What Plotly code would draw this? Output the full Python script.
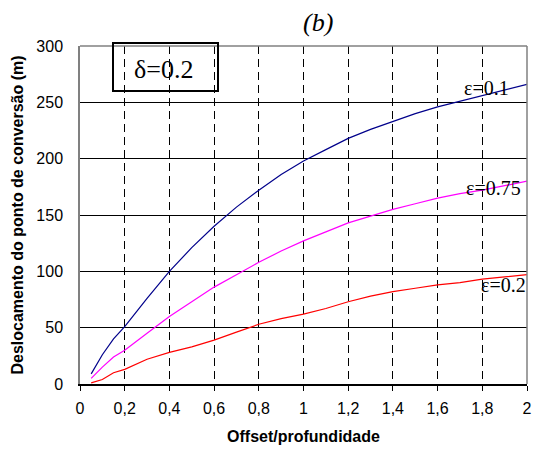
import plotly.graph_objects as go

x_vals = [0.05, 0.1, 0.15, 0.2, 0.3, 0.4, 0.5, 0.6, 0.7, 0.8, 0.9, 1.0,
          1.1, 1.2, 1.3, 1.4, 1.5, 1.6, 1.7, 1.8, 1.9, 2.0]
eps_01 = [9, 26, 40, 51, 76, 100, 121, 140, 157, 172, 186, 198,
          208, 218, 226, 233, 240, 246, 251, 256, 261, 266]
eps_075 = [5, 15, 24, 30, 45, 60, 73, 86, 97, 108, 118, 127,
           135, 143, 149, 155, 160, 165, 169, 172, 176, 180]
eps_02 = [1, 4, 10, 13, 22, 28, 33, 39, 46, 53, 58, 62,
          67, 73, 78, 82, 85, 88, 90, 93, 95, 97]

x_ticks = [0, 0.2, 0.4, 0.6, 0.8, 1.0, 1.2, 1.4, 1.6, 1.8, 2.0]
x_tick_labels = ["0", "0,2", "0,4", "0,6", "0,8", "1", "1,2", "1,4", "1,6", "1,8", "2"]
y_ticks = [0, 50, 100, 150, 200, 250, 300]

series = [
    ("ε=0.1", eps_01, "#00008B"),
    ("ε=0.75", eps_075, "#FF00FF"),
    ("ε=0.2", eps_02, "#FF0000"),
]

fig = go.Figure()
for name, ys, col in series:
    fig.add_trace(go.Scatter(x=x_vals, y=ys, mode="lines", name=name,
                             line=dict(color=col, width=1.2), showlegend=False))

serif = "Liberation Serif"
sans = "Liberation Sans"

fig.update_layout(
    width=533, height=453,
    margin=dict(l=80, r=6, t=46, b=69),
    paper_bgcolor="white", plot_bgcolor="white",
    font=dict(family=sans, color="black", size=16),
    xaxis=dict(range=[0, 2], tickvals=x_ticks, ticktext=x_tick_labels,
               automargin=False,
               showgrid=True, gridcolor="black", gridwidth=1, griddash="8px,5px",
               showline=True, linecolor="black", linewidth=1.5,
               ticks="outside", ticklen=5, tickcolor="black", ticklabelstandoff=4,
               zeroline=False, tickfont=dict(size=16, family=sans),
               title=dict(text="<b>Offset/profundidade</b>", font=dict(size=16, family=sans), standoff=15)),
    yaxis=dict(range=[0, 300], tickvals=y_ticks,
               automargin=False,
               showgrid=True, gridcolor="black", gridwidth=1,
               showline=True, linecolor="#808080", linewidth=1.5,
               ticks="", ticklabelstandoff=12,
               zeroline=False, tickfont=dict(size=16, family=sans),
               title=dict(text="<b>Deslocamento do ponto de conversão (m)</b>",
                          font=dict(size=16, family=sans), standoff=9)),
)

# top and right border in gray
fig.add_shape(type="line", xref="paper", yref="paper", x0=0, x1=1, y0=1, y1=1,
              line=dict(color="#808080", width=1.5), layer="above")
fig.add_shape(type="line", xref="paper", yref="paper", x0=1, x1=1, y0=0, y1=1,
              line=dict(color="#808080", width=1.5), layer="above")

# delta box
fig.add_shape(type="rect", xref="paper", yref="paper",
              x0=(113 - 80) / 447, x1=(218 - 80) / 447,
              y0=(384 - 91) / 338, y1=(384 - 43) / 338,
              line=dict(color="black", width=2), fillcolor="rgba(0,0,0,0)", layer="above")
fig.add_annotation(xref="paper", yref="paper", x=(163 - 80) / 447, y=(384 - 69) / 338,
                   text="δ=0.2", showarrow=False, font=dict(family=serif, size=26),
                   xanchor="center", yanchor="middle")

# title (b)
fig.add_annotation(xref="paper", yref="paper", x=(318 - 80) / 447, y=1, yshift=24,
                   text="<i>(b)</i>", showarrow=False, font=dict(family=serif, size=26),
                   xanchor="center", yanchor="middle")

# curve labels
labels = [("ε=0.1", 508, 88), ("ε=0.75", 520, 188), ("ε=0.2", 525, 285)]
for txt, px, py in labels:
    fig.add_annotation(xref="paper", yref="paper", x=(px - 80) / 447, y=(384 - py) / 338,
                       text=txt, showarrow=False, font=dict(family=serif, size=20),
                       xanchor="right", yanchor="middle", xshift=3)

fig.write_html("out.html")
